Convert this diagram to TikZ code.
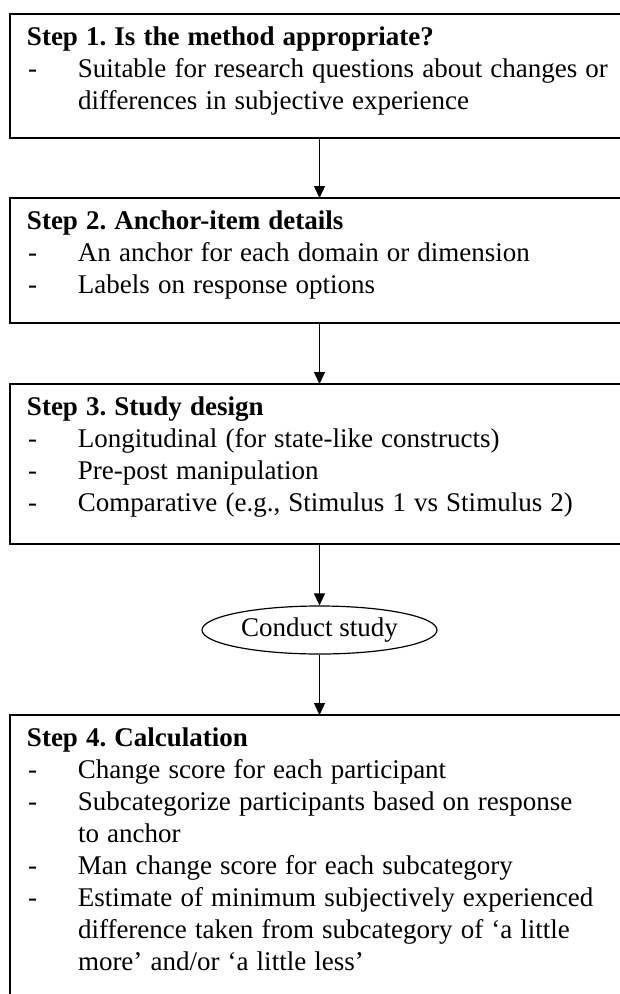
\documentclass[tikz,border=0pt]{standalone}
\usepackage{fontspec}
\setmainfont{Liberation Serif}
\usetikzlibrary{arrows.meta,shapes.geometric}
\frenchspacing
\newcommand\ttl[1]{\noindent\hspace*{17pt}\rule{0pt}{31pt}\textbf{#1}}
\newcommand\itm[1]{\par\noindent\hangindent=68pt\hangafter=1\makebox[68pt][l]{\hspace*{18pt}-}#1}
\newcommand\stepcontent[2]{\parbox[c][#1][t]{640pt}{\fontsize{27pt}{32pt}\selectfont\frenchspacing\spaceskip=0.3em plus 0.1em\raggedright #2}}
\tikzset{
  x=1pt,y=-1pt,
  stepbox/.style={draw, line width=1.5pt, inner sep=0pt, anchor=north west, outer sep=0pt},
  oval/.style={draw, ellipse, line width=1.2pt, minimum width=235pt, minimum height=48pt, inner sep=0pt, font=\fontsize{27pt}{30pt}\selectfont},
  arr/.style={line width=1.4pt, -{Triangle[length=12pt,width=11pt]}}
}
\begin{document}
\begin{tikzpicture}
\useasboundingbox (0,0) rectangle (619,994);
\fill[white] (0,0) rectangle (619,994);
\node[stepbox] (s1) at (10,14) {\stepcontent{124pt}{\ttl{Step 1. Is the method appropriate?}
\itm{Suitable for research questions about changes or\newline differences in subjective experience}}};
\node[stepbox] (s2) at (10,198) {\stepcontent{125pt}{\ttl{Step 2. Anchor-item details}
\itm{An anchor for each domain or dimension}
\itm{Labels on response options}}};
\node[stepbox] (s3) at (10,384) {\stepcontent{160pt}{\ttl{Step 3. Study design}
\itm{Longitudinal (for state-like constructs)}
\itm{Pre-post manipulation}
\itm{Comparative (e.g., Stimulus 1 vs Stimulus 2)}}};
\node[oval] (cs) at (319.5,630) {Conduct study};
\node[stepbox] (s4) at (10,715) {\stepcontent{300pt}{\ttl{Step 4. Calculation}
\itm{Change score for each participant}
\itm{Subcategorize participants based on response\newline to anchor}
\itm{Man change score for each subcategory}
\itm{Estimate of minimum subjectively experienced\newline difference taken from subcategory of ‘a little\newline more’ and/or ‘a little less’}}};
\draw[arr] (cs |- s1.south) -- (cs |- s2.north);
\draw[arr] (cs |- s2.south) -- (cs |- s3.north);
\draw[arr] (cs |- s3.south) -- (cs.north);
\draw[arr] (cs.south) -- (cs |- s4.north);
\end{tikzpicture}
\end{document}
